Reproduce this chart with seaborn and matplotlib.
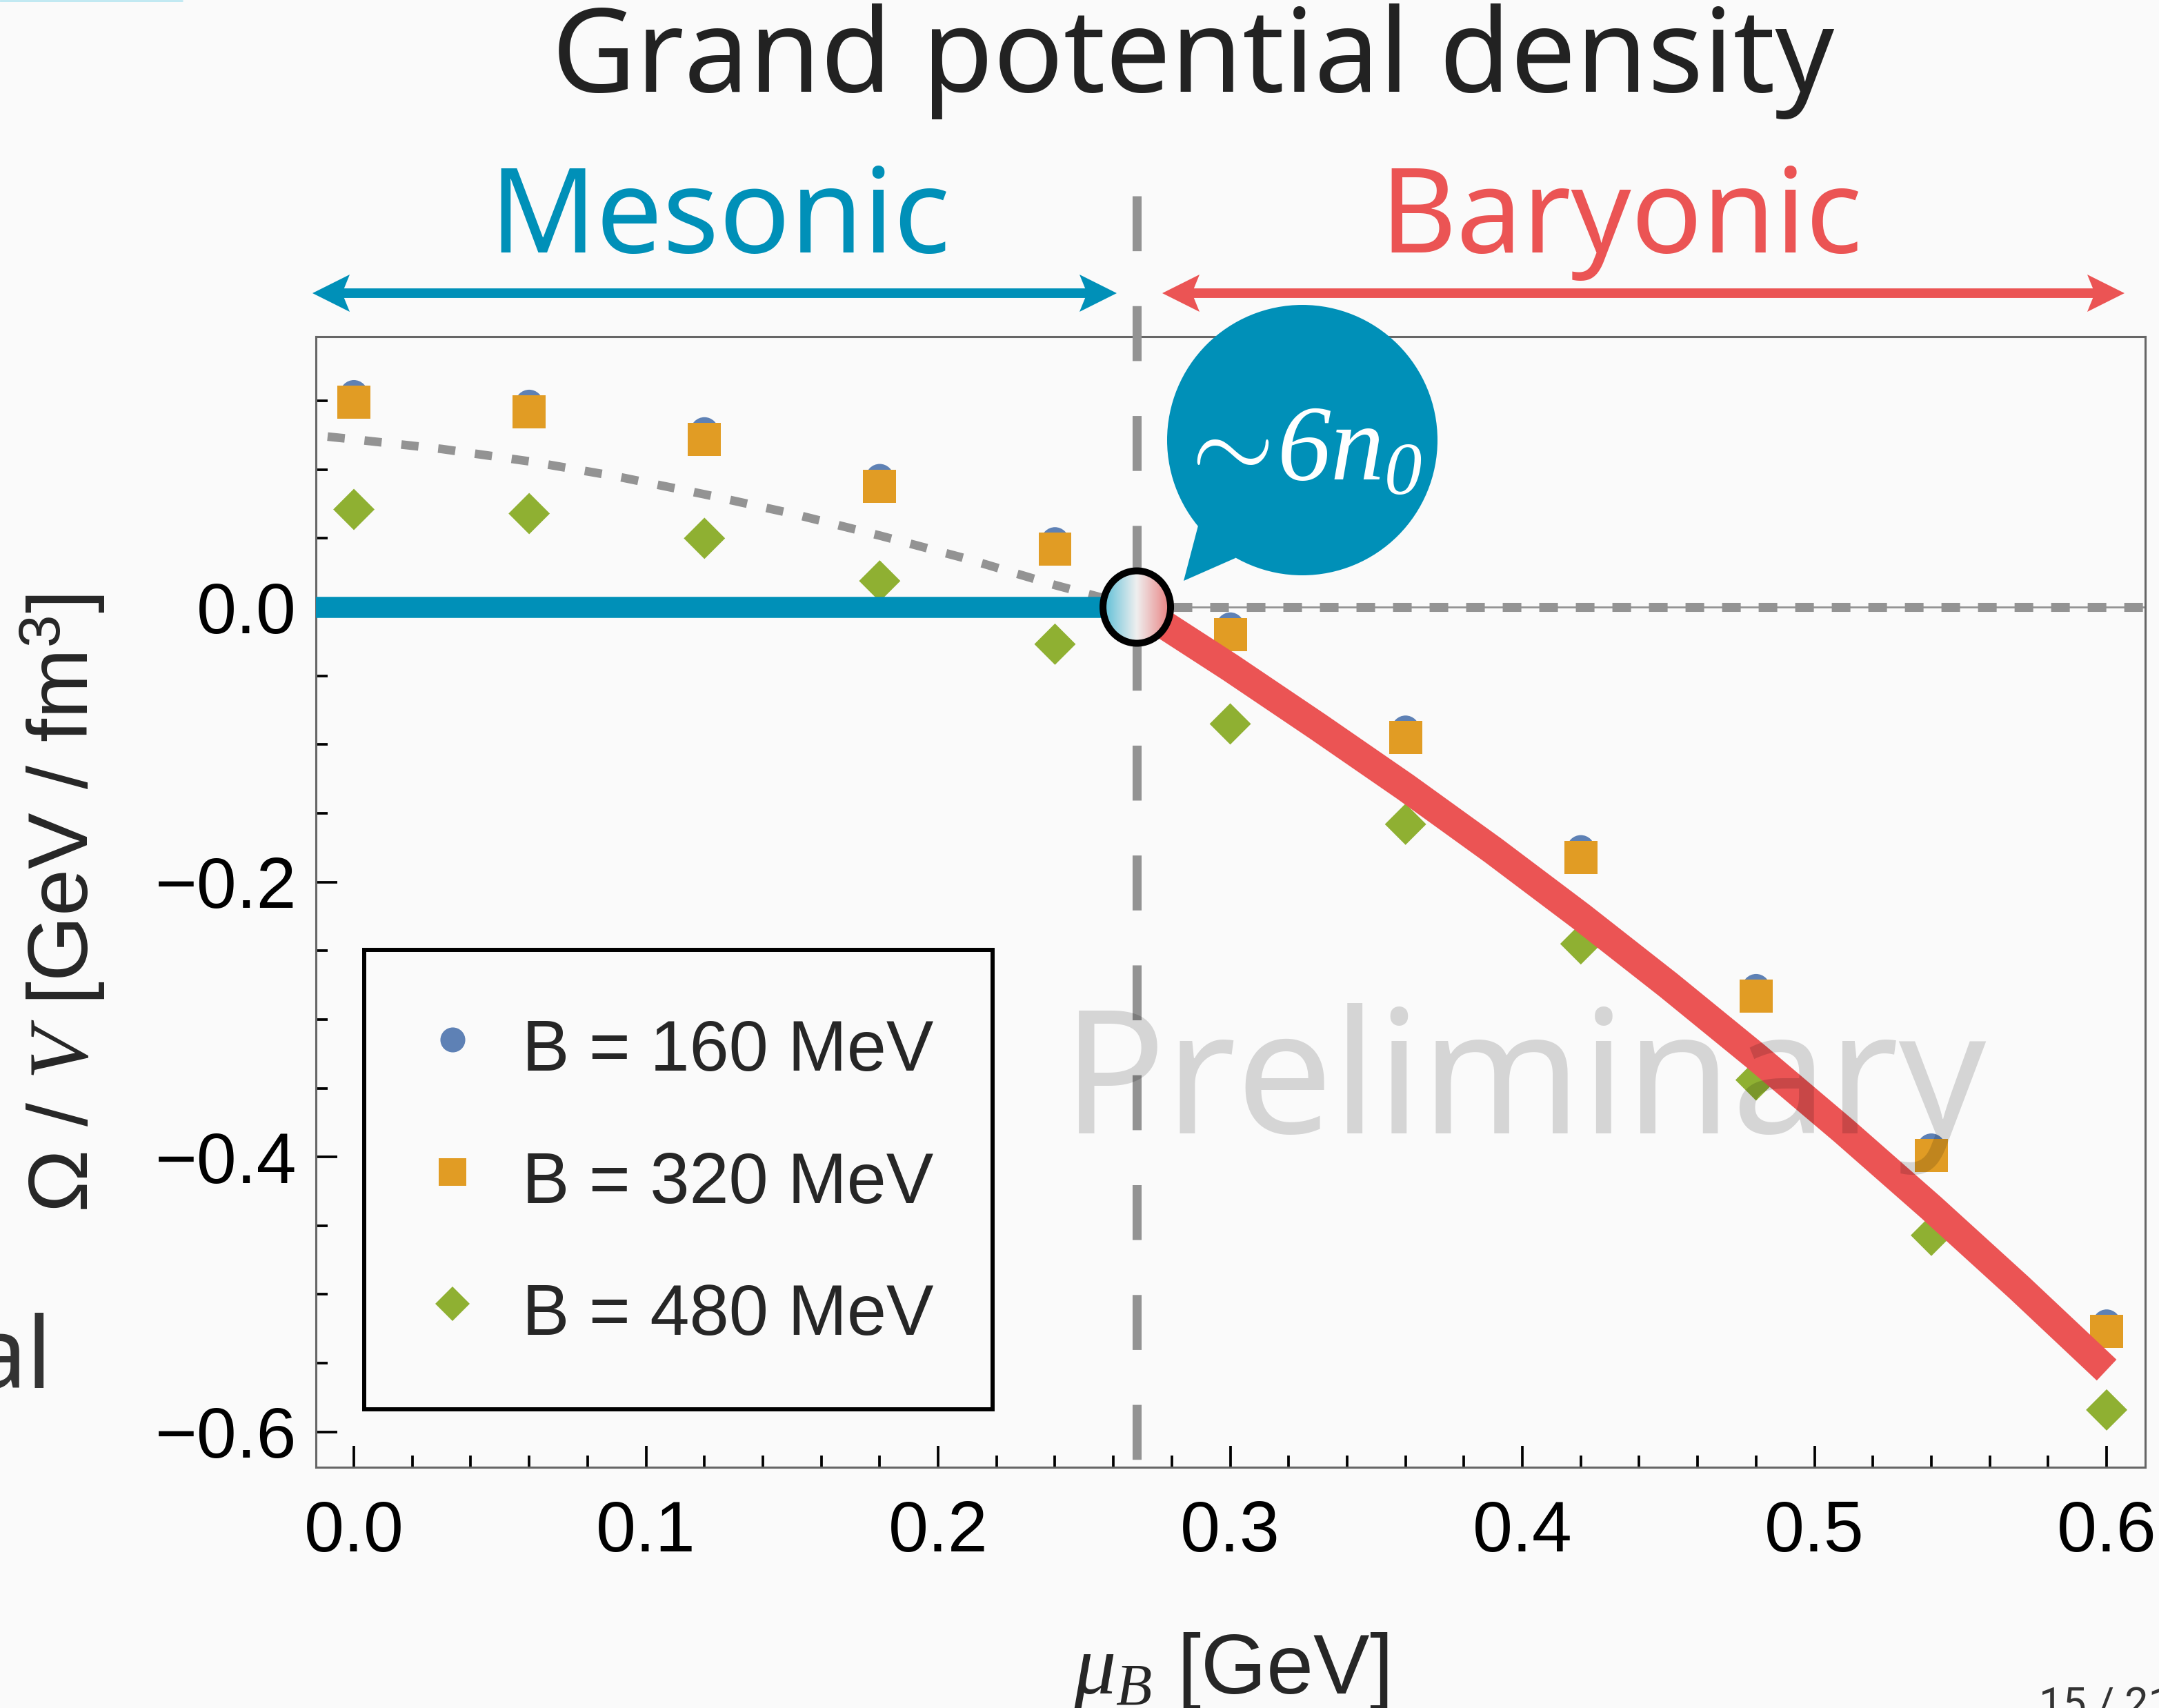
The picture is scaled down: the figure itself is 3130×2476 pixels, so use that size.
import numpy as np
import pandas as pd
import matplotlib
matplotlib.use("Agg")
import matplotlib.pyplot as plt
import seaborn as sns
from matplotlib import font_manager
from matplotlib.lines import Line2D
from matplotlib.patches import Circle, Ellipse, Polygon
from matplotlib.colors import LinearSegmentedColormap
from matplotlib.ticker import MultipleLocator

# ***** data *****
mu_b = [0.0, 0.06, 0.12, 0.18, 0.24, 0.30, 0.36, 0.42, 0.48, 0.54, 0.60]
omega_160 = [0.155, 0.148, 0.128, 0.094, 0.048, -0.014, -0.089, -0.176, -0.277, -0.393, -0.521]
omega_320 = [0.149, 0.142, 0.122, 0.088, 0.042, -0.020, -0.095, -0.182, -0.283, -0.399, -0.527]
omega_480 = [0.071, 0.068, 0.050, 0.019, -0.027, -0.085, -0.158, -0.245, -0.344, -0.457, -0.584]
bag_labels = ["B = 160 MeV", "B = 320 MeV", "B = 480 MeV"]

mesonic_mu = [-0.02, 0.268]
mesonic_omega = [0.0, 0.0]
baryonic_mu = [0.268, 0.30, 0.33, 0.36, 0.39, 0.42, 0.45, 0.48, 0.51, 0.54, 0.57, 0.60]
baryonic_omega = [0.0, -0.044, -0.087, -0.131, -0.177, -0.225, -0.275, -0.327, -0.381, -0.437, -0.495, -0.555]
extrap_mu = [-0.009, 0.0, 0.03, 0.06, 0.09, 0.12, 0.15, 0.18, 0.21, 0.24, 0.268]
extrap_omega = [0.124, 0.122, 0.115, 0.106, 0.095, 0.082, 0.068, 0.052, 0.035, 0.016, 0.0]
transition_mu = 0.268

# colours
bg = "#FAFAFA"
teal = "#0090B8"
red = "#EB5454"
gray = "#939393"
point_colors = {"B = 160 MeV": "#5E81B5", "B = 320 MeV": "#E19C24", "B = 480 MeV": "#8FB032"}
point_markers = {"B = 160 MeV": "o", "B = 320 MeV": "s", "B = 480 MeV": "D"}
point_sizes = {"B = 160 MeV": 29 ** 2, "B = 320 MeV": 34.5 ** 2, "B = 480 MeV": 30.5 ** 2}
legend_ms = {"B = 160 MeV": 26, "B = 320 MeV": 29, "B = 480 MeV": 25.5}

sns.set_style("ticks")
names = {f.name for f in font_manager.fontManager.ttflist}
sans = "Liberation Sans Narrow" if "Liberation Sans Narrow" in names else "Liberation Sans"
plt.rcParams["font.family"] = [sans, "DejaVu Sans"]
# math: letters and digits in Times-like italic, \mathsf for upright sans
plt.rcParams["mathtext.fontset"] = "custom"
plt.rcParams["mathtext.rm"] = "Liberation Serif:italic"
plt.rcParams["mathtext.it"] = "Liberation Serif:italic"
plt.rcParams["mathtext.sf"] = sans
plt.rcParams["mathtext.bf"] = sans + ":bold"

W, H = 3130, 2476
fig = plt.figure(figsize=(W / 100, H / 100), dpi=100, facecolor=bg)
ax = fig.add_axes([458 / W, (H - 2127) / H, (3110 - 458) / W, (2127 - 488) / H])
ax.set_facecolor(bg)

xlim = (-0.013, 0.6132)
ylim = (-0.6257, 0.1967)

df = pd.DataFrame({
    "mu": mu_b * 3,
    "omega": omega_160 + omega_320 + omega_480,
    "B": np.repeat(bag_labels, len(mu_b)),
})

# gray extrapolation of the mesonic branch
sns.lineplot(x=extrap_mu, y=extrap_omega, ax=ax, color=gray, lw=9, sort=False,
             estimator=None, linestyle=(0, (2.0, 2.3)), zorder=2)
# y = 0 reference to the right of the transition
ax.hlines(0, transition_mu, xlim[1], color=gray, lw=2, zorder=2)
ax.hlines(0, transition_mu, xlim[1], color=gray, lw=9.4, linestyles=[(0, (2.07, 1.99))], zorder=2)

sns.scatterplot(data=df, x="mu", y="omega", hue="B", style="B", size="B",
                palette=point_colors, markers=point_markers, sizes=point_sizes,
                linewidth=0, legend=False, ax=ax, zorder=3)

sns.lineplot(x=mesonic_mu, y=mesonic_omega, ax=ax, color=teal, lw=22, sort=False,
             estimator=None, solid_capstyle="butt", zorder=4)
sns.lineplot(x=baryonic_mu, y=baryonic_omega, ax=ax, color=red, lw=30, sort=False,
             estimator=None, solid_capstyle="butt", solid_joinstyle="round", zorder=4)

# dashed vertical line at the transition, running up into the header
ax.plot([transition_mu, transition_mu], [0.299, ylim[0]], color=gray, lw=9.4,
        linestyle=(0, (6.1, 6.1)), clip_on=False, zorder=5)

ax.set_xlim(*xlim)
ax.set_ylim(*ylim)

# transition marker with a cyan-white-red gradient
sx = ax.bbox.width / (xlim[1] - xlim[0])
sy = ax.bbox.height / (ylim[1] - ylim[0])
cmap = LinearSegmentedColormap.from_list("trans", ["#45B7D3", "#EFEFEF", "#E86E6E"])
inner = Ellipse((transition_mu, 0), 90 / sx, 96 / sy, transform=ax.transData)
im = ax.imshow(np.linspace(0, 1, 256)[None, :], cmap=cmap, aspect="auto",
               extent=[transition_mu - 56 / sx, transition_mu + 56 / sx, -58 / sy, 58 / sy],
               interpolation="bilinear", zorder=6)
im.set_clip_path(inner)
ax.add_patch(Ellipse((transition_mu, 0), 98 / sx, 105 / sy, facecolor="none",
                     edgecolor="black", lw=7.2, zorder=7))
ax.set_xlim(*xlim)
ax.set_ylim(*ylim)

# axes styling
for s in ax.spines.values():
    s.set_color("#666666")
    s.set_linewidth(2.2)
ax.xaxis.set_major_locator(MultipleLocator(0.1))
ax.xaxis.set_minor_locator(MultipleLocator(0.02))
ax.yaxis.set_major_locator(MultipleLocator(0.2))
ax.yaxis.set_minor_locator(MultipleLocator(0.05))
ax.tick_params(which="both", direction="in", top=False, right=False, color="black",
               width=2.7, labelsize=75, labelcolor="black")
ax.tick_params(which="major", length=22)
ax.tick_params(which="minor", length=12.5)
ax.tick_params(axis="x", which="major", pad=34)
ax.tick_params(axis="y", which="major", pad=20)

ax.set_xlabel(r"$\mu_B$ [GeV]", fontsize=88)
ax.xaxis.set_label_coords(0.5, -0.200)
ax.xaxis.label.set_va("baseline")
ax.set_ylabel(r"Ω / $V$ [GeV / fm$^{\mathsf{3}}$]", fontsize=88)
ax.yaxis.set_label_coords(-0.1244, 0.4985)
ax.yaxis.label.set_va("baseline")

handles = [Line2D([], [], ls="none", marker=point_markers[b], ms=legend_ms[b],
                  color=point_colors[b], mew=0) for b in bag_labels]
leg = ax.legend(handles, bag_labels, loc="upper left",
                bbox_to_anchor=((528 - 458) / 2652, (2127 - 1377) / 1639),
                borderaxespad=0, fontsize=74, frameon=True, fancybox=False,
                edgecolor="black", facecolor=bg, framealpha=1, borderpad=0.83,
                labelspacing=0.78, handlelength=0.83, handleheight=1.27,
                handletextpad=0.57)
leg.get_frame().set_linewidth(4.3)
leg.set_zorder(9)

ax.text(0.6606, 0.2953, "Preliminary", transform=ax.transAxes, ha="center",
        va="baseline", fontsize=179, family="Noto Sans", fontweight="semibold",
        color="black", alpha=0.145, zorder=8)

# ***** slide decorations (pixel coordinates) *****
deco = fig.add_axes([0, 0, 1, 1], zorder=10)
deco.set_xlim(0, W)
deco.set_ylim(H, 0)
deco.axis("off")

deco.text(1730, 133, "Grand potential density", ha="center", va="baseline",
          fontsize=121, family="Noto Sans", color="#222222")
deco.text(1044, 366, "Mesonic", ha="center", va="baseline", fontsize=123,
          family="Noto Sans", color=teal)
deco.text(2350, 366, "Baryonic", ha="center", va="baseline", fontsize=123,
          family="Noto Sans", color=red)


def double_arrow(x0, x1, y, color):
    deco.plot([x0 + 40, x1 - 40], [y, y], color=color, lw=10, solid_capstyle="butt")
    for tip, d in ((x0, 1), (x1, -1)):
        deco.add_patch(Polygon([(tip, y), (tip + d * 54, y - 27), (tip + d * 43, y),
                                (tip + d * 54, y + 27)], closed=True, color=color, lw=0))


double_arrow(453, 1619, 425, teal)
double_arrow(1685, 3080, 425, red)

# speech bubble
deco.add_patch(Circle((1888, 638), 196, color=teal, lw=0))
deco.add_patch(Polygon([(1737, 762), (1716, 842), (1791, 809), (1888, 638)],
                       closed=True, color=teal, lw=0))
deco.text(1883, 655, r"$\sim\!6n_{0}$", ha="center", va="center",
          color="white", fontsize=112)

deco.text(76, 2012, "al", ha="right", va="baseline", fontsize=103,
          family="Noto Sans", color="#333333")
deco.text(2956, 2444, "15 / 21", ha="left", va="top", fontsize=44,
          family="Roboto", color="#333333")
deco.plot([0, 264], [1, 1], color="#BDE8F2", lw=2)

fig.savefig("out.png", dpi=100, facecolor=bg)
